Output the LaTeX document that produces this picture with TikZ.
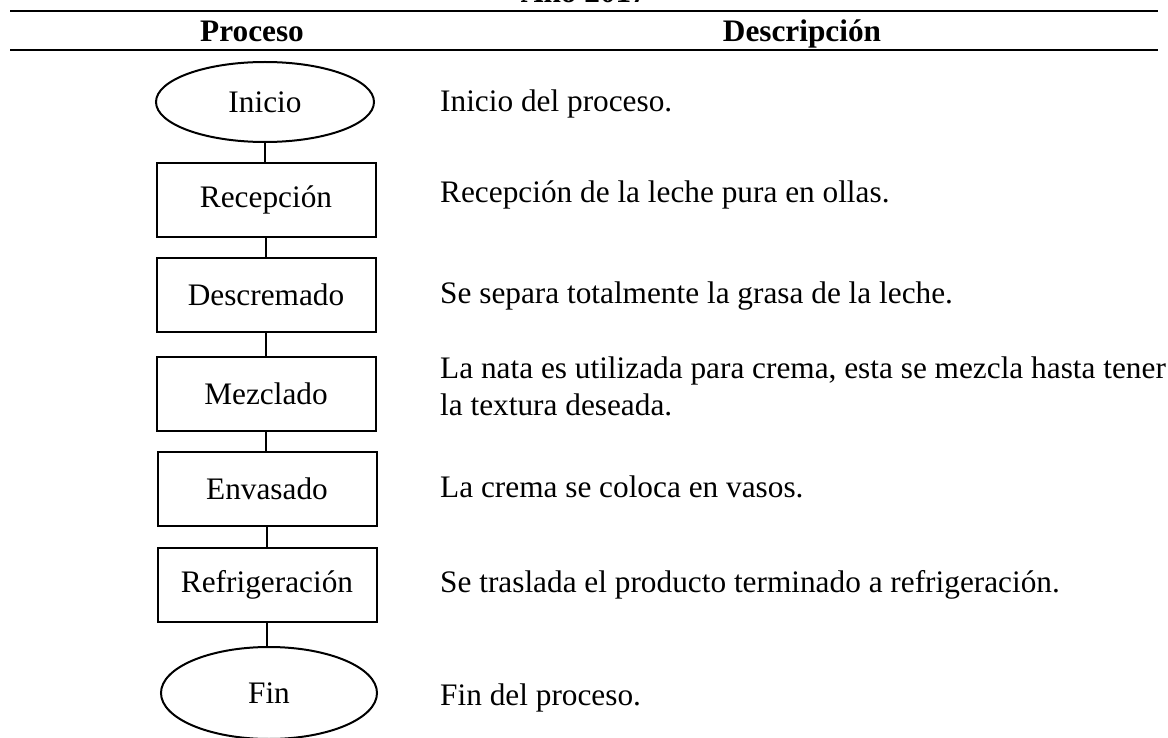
\documentclass[tikz,border=0pt]{standalone}
\usepackage{fontspec}
\setmainfont{Liberation Serif}
\usetikzlibrary{shapes.geometric}
\newcommand{\bigtxt}{\fontsize{31.3}{37}\selectfont}
\tikzset{
  procbox/.style={draw, line width=2pt, rectangle, minimum width=219pt, minimum height=74pt, inner sep=0pt, font=\bigtxt},
  termshape/.style={draw, line width=2pt, ellipse, inner sep=0pt, font=\bigtxt},
  desc/.style={anchor=base west, inner sep=0pt, font=\bigtxt},
  head/.style={anchor=base, inner sep=0pt, font=\bigtxt\bfseries},
  rule/.style={line width=1.6pt},
  link/.style={line width=2pt}
}
\begin{document}
\begin{tikzpicture}[x=1pt, y=-1pt]
\useasboundingbox (0,0) rectangle (1168,738);
% caption (cut off at top)
\node[head] (caption) at (584,3) {Año 2017};
% header rules
\coordinate (r1a) at (10,11);
\coordinate (r1b) at (1158,11);
\coordinate (r2a) at (10,50);
\coordinate (r2b) at (1158,50);
\draw[rule] (r1a) -- (r1b);
\draw[rule] (r2a) -- (r2b);
\node[head] (hproc) at (252,42) {Proceso};
\node[head] (hdesc) at (802,42) {Descripción};
% flow
\node[termshape, minimum width=218pt, minimum height=80pt] (inicio) at (265,102) {Inicio};
\node[procbox] (recep) at (266,200) {Recepción};
\node[procbox] (descr) at (266,295) {Descremado};
\node[procbox] (mezcl) at (266,394) {Mezclado};
\node[procbox] (envas) at (267,489) {Envasado};
\node[procbox] (refri) at (267,585) {Refrigeración};
\node[termshape, minimum width=216pt, minimum height=92pt] (fin) at (269,693) {Fin};
\draw[link] (inicio.south) -- (inicio.south |- recep.north);
\draw[link] (recep.south) -- (recep.south |- descr.north);
\draw[link] (descr.south) -- (descr.south |- mezcl.north);
\draw[link] (mezcl.south) -- (mezcl.south |- envas.north);
\draw[link] (envas.south) -- (envas.south |- refri.north);
\draw[link] (refri.south) -- (refri.south |- fin.north);
% descriptions
\node[desc] (d1) at (440,112) {Inicio del proceso.};
\node[desc] (d2) at (440,203) {Recepción de la leche pura en ollas.};
\node[desc] (d3) at (440,303) {Se separa totalmente la grasa de la leche.};
\node[desc] (d4a) at (440,378) {La nata es utilizada para crema, esta se mezcla hasta tener};
\node[desc] (d4b) at (440,415) {la textura deseada.};
\node[desc] (d5) at (440,497) {La crema se coloca en vasos.};
\node[desc] (d6) at (440,592) {Se traslada el producto terminado a refrigeración.};
\node[desc] (d7) at (440,705) {Fin del proceso.};
\end{tikzpicture}
\end{document}
